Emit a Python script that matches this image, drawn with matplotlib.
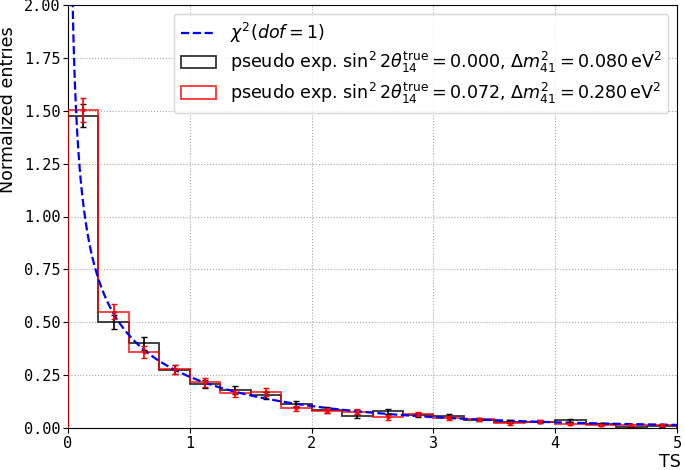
import matplotlib
matplotlib.use("Agg")
import matplotlib.pyplot as plt
import numpy as np

bin_edges = np.arange(0, 5.01, 0.25)

black_vals = [1.477, 0.503, 0.400, 0.275, 0.208, 0.180, 0.155, 0.115,
              0.085, 0.058, 0.079, 0.063, 0.055, 0.040, 0.030, 0.030,
              0.036, 0.019, 0.004, 0.010]
black_errs = [0.055, 0.033, 0.030, 0.022, 0.020, 0.017, 0.016, 0.014,
              0.012, 0.010, 0.011, 0.010, 0.010, 0.008, 0.007, 0.007,
              0.008, 0.006, 0.003, 0.004]

red_vals = [1.502, 0.550, 0.359, 0.277, 0.216, 0.164, 0.170, 0.093,
            0.082, 0.076, 0.050, 0.066, 0.047, 0.041, 0.022, 0.030,
            0.017, 0.016, 0.014, 0.013]
red_errs = [0.057, 0.035, 0.028, 0.022, 0.020, 0.017, 0.017, 0.013,
            0.012, 0.012, 0.010, 0.011, 0.009, 0.008, 0.006, 0.007,
            0.005, 0.005, 0.005, 0.005]

label_black = r'pseudo exp. $\sin^2 2\theta_{14}^{\rm true}=0.000$, $\Delta m^2_{41}=0.080\,\rm eV^2$'
label_red = r'pseudo exp. $\sin^2 2\theta_{14}^{\rm true}=0.072$, $\Delta m^2_{41}=0.280\,\rm eV^2$'

plt.rcParams['font.size'] = 12.6

fig, ax = plt.subplots(figsize=(6.85, 4.7), dpi=100)
fig.subplots_adjust(left=68 / 685, right=677 / 685, top=1 - 5 / 470, bottom=1 - 428 / 470)

centers = 0.5 * (bin_edges[:-1] + bin_edges[1:])

x = np.linspace(0.005, 5, 1000)
chi2_pdf = np.exp(-x / 2) / np.sqrt(2 * np.pi * x)
ax.plot(x, chi2_pdf, '--', color='blue', lw=1.6, label=r'$\chi^2(dof=1)$', zorder=4)

ax.hist(centers, bins=bin_edges, weights=black_vals, histtype='step',
        color='black', lw=1.3, alpha=0.8, label=label_black, zorder=2)
ax.hist(centers, bins=bin_edges, weights=red_vals, histtype='step',
        color='red', lw=1.3, alpha=0.8, label=label_red, zorder=3)

ax.errorbar(centers, black_vals, yerr=black_errs, fmt='none', ecolor='black',
            elinewidth=1.2, capsize=2, zorder=5)
ax.errorbar(centers, red_vals, yerr=red_errs, fmt='.', color='red', ms=4,
            elinewidth=1.2, capsize=2, zorder=5)

ax.set_xlim(0, 5)
ax.set_ylim(0, 2)
ax.set_yticks(np.arange(0, 2.01, 0.25))
ax.set_yticklabels(['%.2f' % v for v in np.arange(0, 2.01, 0.25)])
for lab in ax.get_xticklabels() + ax.get_yticklabels():
    lab.set_fontfamily('DejaVu Sans Mono')
    lab.set_fontsize(11)
ax.tick_params(pad=2)
ax.set_xlabel('TS')
ax.xaxis.set_label_coords(1.006, -0.06)
ax.xaxis.label.set_ha('right')
ax.set_ylabel('Normalized entries')
ax.yaxis.set_label_coords(-0.083, 0.752)
ax.grid(True, ls=':', color='gray', alpha=0.7)

ax.legend(loc='upper right', labelspacing=0.3)

fig.savefig('out.png', dpi=100)
